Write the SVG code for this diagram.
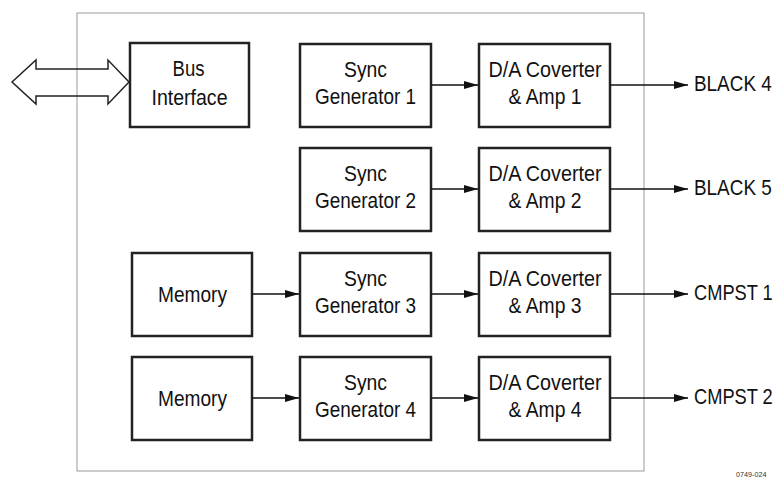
<svg xmlns="http://www.w3.org/2000/svg" width="778" height="478" viewBox="0 0 778 478">
<style>
.box{fill:#fff;stroke:#222;stroke-width:2.5}
.t{font-family:"Liberation Sans",Arial,sans-serif;font-size:22px;fill:#111;text-anchor:middle}
.lbl{font-family:"Liberation Sans",Arial,sans-serif;font-size:22px;fill:#111}
.w{stroke:#111;stroke-width:1.5;fill:none}
</style>
<defs>
<marker id="ah" markerWidth="14" markerHeight="10" refX="14" refY="5" orient="auto" markerUnits="userSpaceOnUse">
<path d="M0,1 L14,5 L0,9 Z" fill="#111"/>
</marker>
</defs>
<rect x="77" y="13" width="567" height="458" fill="none" stroke="#999" stroke-width="1"/>
<g id="bus-arrow">
<polygon points="12,82 36,60 36,69 108,69 108,60 129,82 108,104 108,96 36,96 36,104" fill="none" stroke="#222" stroke-width="1.5"/>
</g>
<g id="bus-interface"><rect class="box" x="130" y="43" width="119" height="84"/><text class="t" x="188.5" y="76" textLength="32" lengthAdjust="spacingAndGlyphs">Bus</text><text class="t" x="189.5" y="105" textLength="76" lengthAdjust="spacingAndGlyphs">Interface</text></g>
<g id="sync1"><rect class="box" x="300" y="44" width="131" height="83"/><text class="t" x="365.5" y="77" textLength="43" lengthAdjust="spacingAndGlyphs">Sync</text><text class="t" x="365.5" y="104" textLength="101" lengthAdjust="spacingAndGlyphs">Generator 1</text></g>
<g id="sync2"><rect class="box" x="300" y="148" width="131" height="83"/><text class="t" x="365.5" y="181" textLength="43" lengthAdjust="spacingAndGlyphs">Sync</text><text class="t" x="365.5" y="208" textLength="101" lengthAdjust="spacingAndGlyphs">Generator 2</text></g>
<g id="sync3"><rect class="box" x="300" y="253" width="131" height="83"/><text class="t" x="365.5" y="286" textLength="43" lengthAdjust="spacingAndGlyphs">Sync</text><text class="t" x="365.5" y="313" textLength="101" lengthAdjust="spacingAndGlyphs">Generator 3</text></g>
<g id="sync4"><rect class="box" x="300" y="357" width="131" height="83"/><text class="t" x="365.5" y="390" textLength="43" lengthAdjust="spacingAndGlyphs">Sync</text><text class="t" x="365.5" y="417" textLength="101" lengthAdjust="spacingAndGlyphs">Generator 4</text></g>
<g id="da1"><rect class="box" x="479" y="44" width="131" height="83"/><text class="t" x="545" y="77" textLength="113" lengthAdjust="spacingAndGlyphs">D/A Coverter</text><text class="t" x="545" y="104" textLength="73" lengthAdjust="spacingAndGlyphs">&amp; Amp 1</text></g>
<g id="da2"><rect class="box" x="479" y="148" width="131" height="83"/><text class="t" x="545" y="181" textLength="113" lengthAdjust="spacingAndGlyphs">D/A Coverter</text><text class="t" x="545" y="208" textLength="73" lengthAdjust="spacingAndGlyphs">&amp; Amp 2</text></g>
<g id="da3"><rect class="box" x="479" y="253" width="131" height="83"/><text class="t" x="545" y="286" textLength="113" lengthAdjust="spacingAndGlyphs">D/A Coverter</text><text class="t" x="545" y="313" textLength="73" lengthAdjust="spacingAndGlyphs">&amp; Amp 3</text></g>
<g id="da4"><rect class="box" x="479" y="357" width="131" height="83"/><text class="t" x="545" y="390" textLength="113" lengthAdjust="spacingAndGlyphs">D/A Coverter</text><text class="t" x="545" y="417" textLength="73" lengthAdjust="spacingAndGlyphs">&amp; Amp 4</text></g>
<g id="memory1"><rect class="box" x="132" y="253" width="120" height="83"/><text class="t" x="192.5" y="302" textLength="69" lengthAdjust="spacingAndGlyphs">Memory</text></g>
<g id="memory2"><rect class="box" x="132" y="357" width="120" height="83"/><text class="t" x="192.5" y="406" textLength="69" lengthAdjust="spacingAndGlyphs">Memory</text></g>
<g id="connectors">
<line class="w" x1="431" y1="85" x2="478" y2="85" marker-end="url(#ah)"/>
<line class="w" x1="431" y1="189" x2="478" y2="189" marker-end="url(#ah)"/>
<line class="w" x1="431" y1="294" x2="478" y2="294" marker-end="url(#ah)"/>
<line class="w" x1="431" y1="398" x2="478" y2="398" marker-end="url(#ah)"/>
<line class="w" x1="252" y1="294" x2="299" y2="294" marker-end="url(#ah)"/>
<line class="w" x1="252" y1="398" x2="299" y2="398" marker-end="url(#ah)"/>
<line class="w" x1="610" y1="85" x2="688" y2="85" marker-end="url(#ah)"/>
<line class="w" x1="610" y1="189" x2="688" y2="189" marker-end="url(#ah)"/>
<line class="w" x1="610" y1="294" x2="688" y2="294" marker-end="url(#ah)"/>
<line class="w" x1="610" y1="398" x2="688" y2="398" marker-end="url(#ah)"/>
</g>
<g id="out-labels">
<g transform="translate(694,91) scale(0.86,1)"><text class="lbl" x="0" y="0">BLACK 4</text></g>
<g transform="translate(694,195) scale(0.86,1)"><text class="lbl" x="0" y="0">BLACK 5</text></g>
<g transform="translate(694,300) scale(0.83,1)"><text class="lbl" x="0" y="0">CMPST 1</text></g>
<g transform="translate(694,404) scale(0.83,1)"><text class="lbl" x="0" y="0">CMPST 2</text></g>
</g>
<g transform="translate(736,477) scale(0.9,1)"><text x="0" y="0" font-family="Liberation Sans,Arial,sans-serif" font-size="8" fill="#333">0749-024</text></g>
</svg>
